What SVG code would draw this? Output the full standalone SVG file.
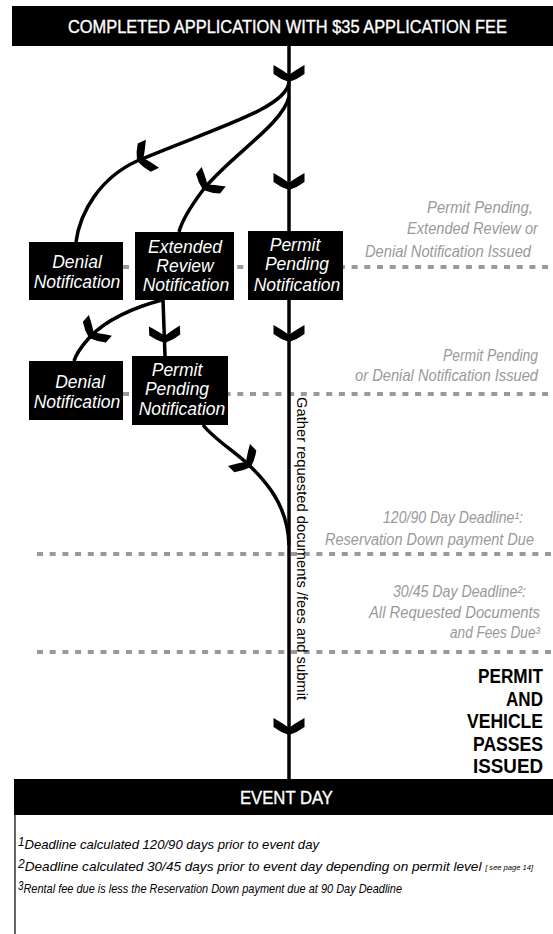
<svg xmlns="http://www.w3.org/2000/svg" width="553" height="934" viewBox="0 0 553 934">
<style>
.bar{fill:#000}
.ht{fill:#fff;stroke:#fff;stroke-width:0.35;font-family:"Liberation Sans Narrow","Liberation Sans",Arial,sans-serif;font-size:18px}
.box{fill:#000}
.bt{fill:#fff;font-family:"Liberation Sans",Arial,sans-serif;font-style:italic;font-size:17.5px;text-anchor:middle}
.ln{fill:none;stroke:#000;stroke-width:3.5}
.dash{fill:none;stroke:#999;stroke-width:4;stroke-dasharray:6 6.7}
.gt{fill:#999;font-family:"Liberation Sans Narrow","Liberation Sans",Arial,sans-serif;font-style:italic;font-size:16.5px}
.pt{fill:#000;font-family:"Liberation Sans Narrow","Liberation Sans",Arial,sans-serif;font-weight:bold;font-size:20.5px}
.vt{fill:#000;font-family:"Liberation Sans Narrow","Liberation Sans",Arial,sans-serif;font-size:15px}
.ft{fill:#000;font-family:"Liberation Sans Narrow","Liberation Sans",Arial,sans-serif;font-style:italic;font-size:13.5px}
.num{font-size:12px}
.small{font-size:7.5px}
</style>
<defs>
<path id="chev" d="M0,0 Q-3,-9 -8,-15.5 L-17,-15.5 Q-11,-5 -7,0 Q-11,5 -17,15.5 L-8,15.5 Q-3,9 0,0 Z" fill="#000"/>
</defs>

<g id="guides">
<path class="dash" d="M123,267 H553"/>
<path class="dash" d="M123,394 H553"/>
<path class="dash" d="M37,554 H553"/>
<path class="dash" d="M37,652 H553"/>
</g>

<g id="start">
<rect class="bar" x="12" y="6" width="541" height="40"/>
<text class="ht" x="68" y="33" textLength="439" lengthAdjust="spacingAndGlyphs">COMPLETED APPLICATION WITH $35 APPLICATION FEE</text>
</g>

<g id="connectors">
<path class="ln" d="M289,46 L289,779"/>
<path class="ln" d="M289,82 C287,108 215,128 137,161 C100,178 80,212 76,242"/>
<path class="ln" d="M289,97 C282,125 230,156 203,190 C191,206 182,220 179,232"/>
<path class="ln" d="M162,300 C135,307 105,320 89,338 C81,347 76,354 74,361"/>
<path class="ln" d="M163,300 L165,356"/>
<path class="ln" d="M203,425 C215,440 237,453 251,467 C265,481 288,505 289,545"/>
<use href="#chev" transform="translate(289,82) rotate(90)"/>
<use href="#chev" transform="translate(289,190) rotate(90)"/>
<use href="#chev" transform="translate(289,342) rotate(90)"/>
<use href="#chev" transform="translate(289,735) rotate(90)"/>
<use href="#chev" transform="translate(137,161) rotate(155)"/>
<use href="#chev" transform="translate(203,190) rotate(129)"/>
<use href="#chev" transform="translate(89,338) rotate(132)"/>
<use href="#chev" transform="translate(165,343) rotate(88)"/>
<use href="#chev" transform="translate(251,467) rotate(45)"/>
</g>

<g id="denial1">
<rect class="box" x="29" y="242" width="94" height="58"/>
<text class="bt" x="77" y="268">Denial</text>
<text class="bt" x="77" y="288">Notification</text>
</g>
<g id="extended">
<rect class="box" x="135" y="232" width="99" height="68"/>
<text class="bt" x="185" y="253">Extended</text>
<text class="bt" x="185" y="272">Review</text>
<text class="bt" x="186" y="291">Notification</text>
</g>
<g id="permit1">
<rect class="box" x="248" y="231" width="95" height="69"/>
<text class="bt" x="295" y="251">Permit</text>
<text class="bt" x="297" y="270">Pending</text>
<text class="bt" x="297" y="291">Notification</text>
</g>
<g id="denial2">
<rect class="box" x="29" y="361" width="94" height="59"/>
<text class="bt" x="80" y="388">Denial</text>
<text class="bt" x="77" y="408">Notification</text>
</g>
<g id="permit2">
<rect class="box" x="132" y="356" width="96" height="69"/>
<text class="bt" x="177" y="376">Permit</text>
<text class="bt" x="177" y="395">Pending</text>
<text class="bt" x="182" y="415">Notification</text>
</g>

<g id="labels">
<text class="gt" x="427" y="213" textLength="106" lengthAdjust="spacingAndGlyphs">Permit Pending,</text>
<text class="gt" x="407" y="234" textLength="131" lengthAdjust="spacingAndGlyphs">Extended Review or</text>
<text class="gt" x="365" y="257" textLength="166" lengthAdjust="spacingAndGlyphs">Denial Notification Issued</text>
<text class="gt" x="443" y="361" textLength="95" lengthAdjust="spacingAndGlyphs">Permit Pending</text>
<text class="gt" x="355" y="381" textLength="183" lengthAdjust="spacingAndGlyphs">or Denial Notification Issued</text>
<text class="gt" x="383" y="523" textLength="140" lengthAdjust="spacingAndGlyphs">120/90 Day Deadline¹:</text>
<text class="gt" x="325" y="545" textLength="209" lengthAdjust="spacingAndGlyphs">Reservation Down payment Due</text>
<text class="gt" x="393" y="597" textLength="133" lengthAdjust="spacingAndGlyphs">30/45 Day Deadline²:</text>
<text class="gt" x="369" y="618" textLength="171" lengthAdjust="spacingAndGlyphs">All Requested Documents</text>
<text class="gt" x="450" y="638" textLength="90" lengthAdjust="spacingAndGlyphs">and Fees Due³</text>
<text class="vt" transform="translate(297,397) rotate(90)" textLength="303" lengthAdjust="spacingAndGlyphs">Gather requested documents /fees and submit</text>
</g>

<g id="issued">
<text class="pt" x="478" y="683" textLength="65" lengthAdjust="spacingAndGlyphs">PERMIT</text>
<text class="pt" x="506" y="706" textLength="37" lengthAdjust="spacingAndGlyphs">AND</text>
<text class="pt" x="467" y="728" textLength="76" lengthAdjust="spacingAndGlyphs">VEHICLE</text>
<text class="pt" x="473" y="751" textLength="70" lengthAdjust="spacingAndGlyphs">PASSES</text>
<text class="pt" x="473" y="773" textLength="70" lengthAdjust="spacingAndGlyphs">ISSUED</text>
</g>

<g id="event">
<line x1="15" y1="798" x2="15" y2="934" stroke="#333" stroke-width="1.5"/>
<rect class="bar" x="14" y="779" width="539" height="36"/>
<text class="ht" x="240" y="804" textLength="93" lengthAdjust="spacingAndGlyphs">EVENT DAY</text>
</g>

<g id="footnotes">
<text class="ft" x="18" y="849" textLength="301" lengthAdjust="spacingAndGlyphs"><tspan class="num" dy="-3">1</tspan><tspan dy="3">Deadline calculated 120/90 days prior to event day</tspan></text>
<text class="ft" x="18" y="871" textLength="515" lengthAdjust="spacingAndGlyphs"><tspan class="num" dy="-3">2</tspan><tspan dy="3">Deadline calculated 30/45 days prior to event day depending on permit level </tspan><tspan class="small" dy="-1">[ see page 14]</tspan></text>
<text class="ft" x="18" y="893" textLength="384" lengthAdjust="spacingAndGlyphs"><tspan class="num" dy="-3">3</tspan><tspan dy="3">Rental fee due is less the Reservation Down payment due at 90 Day Deadline</tspan></text>
</g>
</svg>
